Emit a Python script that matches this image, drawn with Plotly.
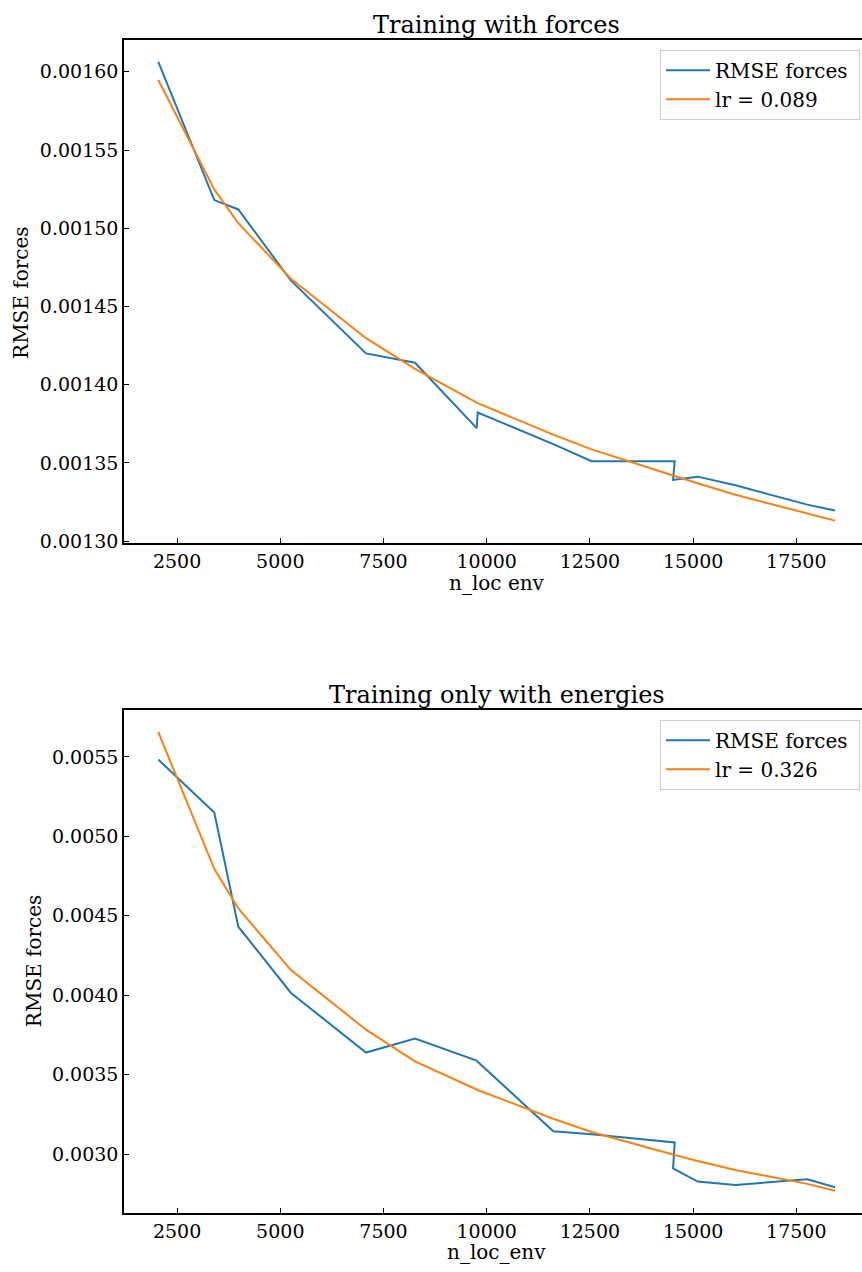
import plotly.graph_objects as go

# ---- data ----
n_loc_env = [2045, 3401, 3983, 5259, 7076, 8263, 9758, 9782, 11613, 12541,
             14554, 14515, 15110, 16026, 17766, 18437]

rmse_forces_top = [0.0016063, 0.0015180, 0.0015120, 0.0014665, 0.0014200, 0.0014140,
                   0.0013722, 0.0013822, 0.0013620, 0.0013511, 0.0013511, 0.0013391,
                   0.0013412, 0.0013357, 0.0013233, 0.0013195]
fit_top = [0.0015947, 0.0015248, 0.0015032, 0.0014677, 0.0014297, 0.0014101,
           0.0013885, 0.0013882, 0.0013681, 0.0013586, 0.0013416, 0.0013419,
           0.0013370, 0.0013296, 0.0013180, 0.0013131]

rmse_forces_bot = [0.005483, 0.005150, 0.004431, 0.004014, 0.003639, 0.003727,
                   0.003588, 0.003581, 0.003144, 0.003125, 0.003073, 0.002910,
                   0.002827, 0.002806, 0.002841, 0.002791]
fit_bot = [0.0056563, 0.0047956, 0.0045456, 0.0041581, 0.0037831, 0.0035831,
           0.0034063, 0.0034030, 0.0032225, 0.0031394, 0.0029938, 0.0029965,
           0.0029563, 0.0029000, 0.0028125, 0.0027688]

x_ticks = [2500, 5000, 7500, 10000, 12500, 15000, 17500]
y_ticks_top = [0.00130, 0.00135, 0.00140, 0.00145, 0.00150, 0.00155, 0.00160]
y_ticks_bot = [0.0030, 0.0035, 0.0040, 0.0045, 0.0050, 0.0055]

titles = ["Training with forces", "Training only with energies"]
x_titles = ["n_loc env", "n_loc_env"]
y_title = "RMSE forces"
series_label = "RMSE forces"
fit_labels = ["lr = 0.089", "lr = 0.326"]

BLUE = "#1f77b4"
ORANGE = "#ff7f0e"
FONT = "DejaVu Serif"
W, H = 862, 1272
PAD = "\u00a0"

fig = go.Figure()

fig.add_trace(go.Scatter(x=n_loc_env, y=rmse_forces_top, mode="lines", name=series_label + PAD,
                         line=dict(color=BLUE, width=2), xaxis="x", yaxis="y", legend="legend"))
fig.add_trace(go.Scatter(x=n_loc_env, y=fit_top, mode="lines", name=fit_labels[0],
                         line=dict(color=ORANGE, width=2), xaxis="x", yaxis="y", legend="legend"))
fig.add_trace(go.Scatter(x=n_loc_env, y=rmse_forces_bot, mode="lines", name=series_label + PAD,
                         line=dict(color=BLUE, width=2), xaxis="x2", yaxis="y2", legend="legend2"))
fig.add_trace(go.Scatter(x=n_loc_env, y=fit_bot, mode="lines", name=fit_labels[1],
                         line=dict(color=ORANGE, width=2), xaxis="x2", yaxis="y2", legend="legend2"))

x_left = 124 / W
top_dom = [1 - 547 / H, 1 - 40 / H]
bot_dom = [1 - 1221.7 / H, 1 - 715 / H]

axis_common = dict(showgrid=False, zeroline=False, showline=True, linecolor="black",
                   linewidth=1.5, ticks="inside", ticklen=5, tickwidth=1, tickcolor="black",
                   tickfont=dict(family=FONT, size=19, color="black"))

xrange = [1214, 19091]
fig.update_layout(
    width=W, height=H,
    margin=dict(l=0, r=0, t=0, b=0),
    paper_bgcolor="white", plot_bgcolor="white",
    font=dict(family=FONT, color="black"),
    xaxis=dict(domain=[x_left, 1], anchor="y", range=xrange, tickvals=x_ticks,
               tickformat="d", mirror=True, **axis_common),
    yaxis=dict(domain=top_dom, anchor="x", range=[0.0012987, 0.0016205],
               tickvals=y_ticks_top, tickformat=".5f", **axis_common),
    xaxis2=dict(domain=[x_left, 1], anchor="y2", range=xrange, tickvals=x_ticks,
                tickformat="d", mirror=True, **axis_common),
    yaxis2=dict(domain=bot_dom, anchor="x2", range=[0.0026287, 0.0057956],
                tickvals=y_ticks_bot, tickformat=".4f", **axis_common),
    legend=dict(x=860 / W, xanchor="right", y=1 - 50 / H, yanchor="top",
                bgcolor="white", bordercolor="#cccccc", borderwidth=1, itemwidth=44,
                font=dict(family=FONT, size=20, color="black")),
    legend2=dict(x=860 / W, xanchor="right", y=1 - 725 / H, yanchor="top",
                 bgcolor="white", bordercolor="#cccccc", borderwidth=1, itemwidth=44,
                 font=dict(family=FONT, size=20, color="black")),
)

ann = []
cx = (124 + 869) / 2 / W
ann.append(dict(text=titles[0], x=cx, y=1 - 25 / H, xref="paper", yref="paper",
                showarrow=False, xanchor="center", yanchor="middle",
                font=dict(family=FONT, size=24, color="black")))
ann.append(dict(text=titles[1], x=cx, y=1 - 700 / H, xref="paper", yref="paper",
                showarrow=False, xanchor="center", yanchor="middle",
                font=dict(family=FONT, size=24, color="black")))
ann.append(dict(text=x_titles[0], x=cx, y=1 - 587 / H, xref="paper", yref="paper",
                showarrow=False, xanchor="center", yanchor="middle",
                font=dict(family=FONT, size=20, color="black")))
ann.append(dict(text=x_titles[1], x=cx, y=1 - 1261 / H, xref="paper", yref="paper",
                showarrow=False, xanchor="center", yanchor="middle",
                font=dict(family=FONT, size=20, color="black")))
ann.append(dict(text=y_title, x=21 / W, y=1 - 295 / H, xref="paper", yref="paper",
                showarrow=False, xanchor="center", yanchor="middle", textangle=-90,
                font=dict(family=FONT, size=20, color="black")))
ann.append(dict(text=y_title, x=34 / W, y=1 - 968 / H, xref="paper", yref="paper",
                showarrow=False, xanchor="center", yanchor="middle", textangle=-90,
                font=dict(family=FONT, size=20, color="black")))
fig.update_layout(annotations=ann)

fig.write_html("out.html")
